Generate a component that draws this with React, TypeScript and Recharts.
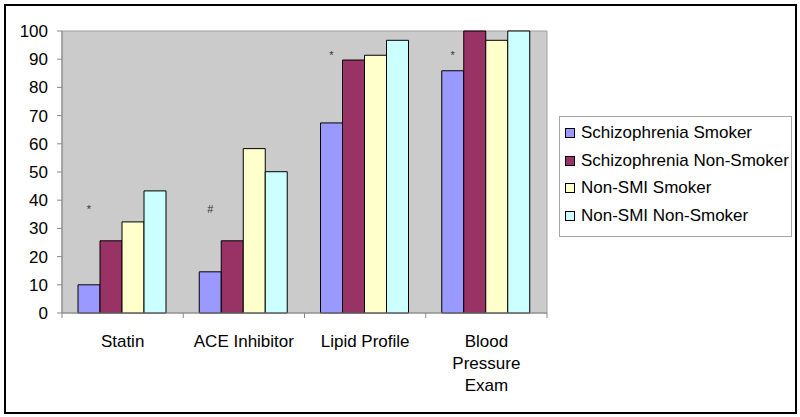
import React from 'react';
import { BarChart, Bar, XAxis, YAxis, CartesianGrid, Legend, LabelList, ReferenceArea, Text } from 'recharts';

const categories = ['Statin', 'ACE Inhibitor', 'Lipid Profile', 'Blood Pressure Exam'];
const schizophreniaSmoker = [10, 14.6, 67.4, 85.9];
const schizophreniaNonSmoker = [25.6, 25.6, 89.7, 100];
const nonSmiSmoker = [32.3, 58.3, 91.4, 96.7];
const nonSmiNonSmoker = [43.3, 50.1, 96.7, 100];
const significanceMarks = ['*', '#', '*', '*'];
const markLevels = [35.5, 35.5, 90, 90];
const yTicks = [0, 10, 20, 30, 40, 50, 60, 70, 80, 90, 100];
const seriesNames = ['Schizophrenia Smoker', 'Schizophrenia Non-Smoker', 'Non-SMI Smoker', 'Non-SMI Non-Smoker'];
const seriesColors = ['#9999FF', '#993366', '#FFFFCC', '#CCFFFF'];

const data = categories.map((c, i) => ({
  category: c,
  s0: schizophreniaSmoker[i],
  s1: schizophreniaNonSmoker[i],
  s2: nonSmiSmoker[i],
  s3: nonSmiNonSmoker[i],
  mark: significanceMarks[i],
  level: markLevels[i],
}));

const FONT = '"Liberation Sans", Arial, sans-serif';
const FS = 17;

function CategoryTick(props: any) {
  const { x, y, payload, index, visibleTicksCount } = props;
  const half = payload && typeof payload.offset === 'number' && payload.offset > 0 ? payload.offset : 60.625;
  return (
    <g>
      <line x1={x - half} x2={x - half} y1={y} y2={y + 5} stroke="#888" />
      {index === visibleTicksCount - 1 && <line x1={x + half} x2={x + half} y1={y} y2={y + 5} stroke="#888" />}
      <Text
        x={x}
        y={y + 21.5}
        width={106}
        textAnchor="middle"
        verticalAnchor="start"
        lineHeight={22.3}
        fill="#000"
        style={{ fontSize: FS, fontFamily: FONT }}
      >
        {payload.value}
      </Text>
    </g>
  );
}

function MarkLabel(props: any) {
  const { x, y, width, height, index } = props;
  const row = data[index];
  if (!row || !row.s0) return null;
  const bottom = y + height;
  const perUnit = height / row.s0;
  const ty = bottom - row.level * perUnit;
  return (
    <text x={x + width / 2} y={ty} textAnchor="middle" fill="#333" style={{ fontSize: 11, fontFamily: FONT }}>
      {row.mark}
    </text>
  );
}

function LegendBox(props: any) {
  const payload = [...(props.payload || [])].sort(
    (a: any, b: any) => seriesNames.indexOf(a.value) - seriesNames.indexOf(b.value)
  );
  return (
    <div
      style={{
        border: '1px solid #A6A6A6',
        background: '#fff',
        width: 233,
        height: 121,
        boxSizing: 'border-box',
        paddingTop: 2.5,
        fontFamily: FONT,
        fontSize: FS,
        color: '#000',
      }}
    >
      {payload.map((p: any, i: number) => (
        <div key={i} style={{ display: 'flex', alignItems: 'center', height: 27.6, whiteSpace: 'nowrap' }}>
          <span
            style={{
              display: 'inline-block',
              width: 8,
              height: 8,
              border: '1px solid #000',
              background: p.color,
              marginLeft: 5,
              marginRight: 6,
            }}
          />
          <span>{p.value}</span>
        </div>
      ))}
    </div>
  );
}

export default function App() {
  return (
    <div style={{ position: 'absolute', left: 0, top: 0, width: 800, height: 417, background: '#fff' }}>
      <div
        style={{
          position: 'absolute',
          left: 4,
          top: 4,
          width: 793,
          height: 410,
          boxSizing: 'border-box',
          border: '2px solid #000',
        }}
      />
      <div style={{ position: 'absolute', left: 0, top: 0 }}>
        <BarChart
          width={800}
          height={417}
          data={data}
          margin={{ top: 31, right: 253, bottom: 44, left: 0 }}
          barCategoryGap="13.2%"
          barGap={0}
        >
          <CartesianGrid fill="#CBCBCB" horizontal={false} vertical={false} />
          <ReferenceArea y1={0} y2={100} fill="none" stroke="#A0A0A0" strokeWidth={1} />
          <XAxis
            dataKey="category"
            height={60}
            interval={0}
            tickLine={false}
            tickSize={0}
            tickMargin={0}
            axisLine={{ stroke: '#888' }}
            tick={<CategoryTick />}
          />
          <YAxis
            width={62}
            domain={[0, 100]}
            ticks={yTicks}
            interval={0}
            tickSize={5}
            tickMargin={9}
            axisLine={{ stroke: '#888' }}
            tickLine={{ stroke: '#888' }}
            tick={{ fill: '#000', fontSize: FS, fontFamily: FONT }}
          />
          <Legend
            layout="horizontal"
            verticalAlign="middle"
            align="center"
            content={<LegendBox />}
            wrapperStyle={{ left: 559, top: 116, width: 233 }}
          />
          <Bar dataKey="s0" name={seriesNames[0]} fill={seriesColors[0]} stroke="#000" strokeWidth={1} isAnimationActive={false}>
            <LabelList dataKey="mark" content={<MarkLabel />} />
          </Bar>
          <Bar dataKey="s1" name={seriesNames[1]} fill={seriesColors[1]} stroke="#000" strokeWidth={1} isAnimationActive={false} />
          <Bar dataKey="s2" name={seriesNames[2]} fill={seriesColors[2]} stroke="#000" strokeWidth={1} isAnimationActive={false} />
          <Bar dataKey="s3" name={seriesNames[3]} fill={seriesColors[3]} stroke="#000" strokeWidth={1} isAnimationActive={false} />
        </BarChart>
      </div>
    </div>
  );
}
